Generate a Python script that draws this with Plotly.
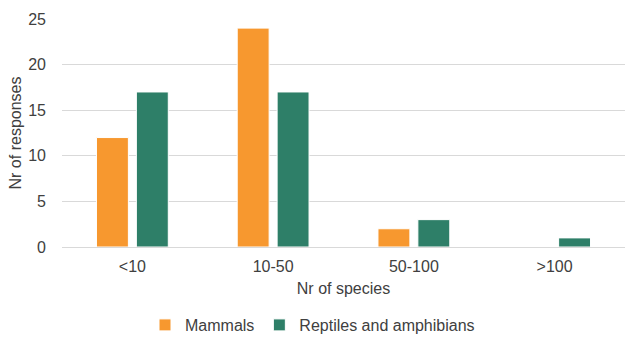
import plotly.graph_objects as go

categories = ["<10", "10-50", "50-100", ">100"]
mammals = [12, 24, 2, 0]
reptiles = [17, 17, 3, 1]
y_ticks = [0, 5, 10, 15, 20, 25]

ORANGE = "#F7982F"
GREEN = "#2E7F68"
TEXT = "#404040"
GRID = "#D9D9D9"

fig = go.Figure()
fig.add_trace(go.Bar(
    name="Mammals", x=categories, y=mammals,
    marker=dict(color=ORANGE, line=dict(color="#FFFFFF", width=1)),
))
fig.add_trace(go.Bar(
    name="Reptiles and amphibians", x=categories, y=reptiles,
    marker=dict(color=GREEN, line=dict(color="#FFFFFF", width=1)),
))

title_font = dict(size=16, color=TEXT)

fig.update_layout(
    width=625, height=342,
    margin=dict(l=62, r=0, t=19, b=95),
    paper_bgcolor="white", plot_bgcolor="white",
    font=dict(family="Liberation Sans, Arial, sans-serif", size=16, color=TEXT),
    barmode="group", bargap=0.433, bargroupgap=0.2,
    showlegend=True,
    legend=dict(
        orientation="h", xref="container", yref="container",
        x=0.5, xanchor="center", y=0.0, yanchor="bottom",
        font=dict(size=16, color=TEXT), itemwidth=30,
    ),
    xaxis=dict(
        title=dict(text="Nr of species", standoff=8, font=title_font),
        showgrid=False, showline=False, ticks="", zeroline=False,
        ticklabelstandoff=8,
    ),
    yaxis=dict(
        title=dict(text="Nr of responses", standoff=2, font=title_font),
        range=[0, 25], tickvals=y_ticks, showgrid=True, gridcolor=GRID,
        gridwidth=1, zeroline=True, zerolinecolor=GRID, zerolinewidth=1,
        showline=False, ticks="", ticklabelstandoff=15,
    ),
)

fig.write_html("out.html")
